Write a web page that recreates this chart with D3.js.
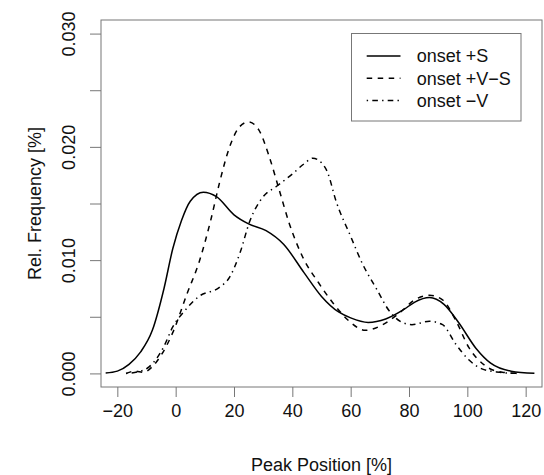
<!DOCTYPE html>
<html>
<head>
<meta charset="utf-8">
<script src="https://cdn.jsdelivr.net/npm/d3@7"></script>
<style>
  body { margin: 0; background: #fff; }
  text { font-family: "Liberation Sans", Arial, sans-serif; fill: #111; }
</style>
</head>
<body>
<svg width="544" height="475"></svg>
<script>
// density curves
var posS  = [-24, -20, -16, -12, -8, -4, -1, 2, 5, 9.5, 14, 20, 25, 31, 37, 44, 50, 56, 60, 66, 72, 78, 82, 87, 92, 97, 103, 108, 115, 123];
var freqS = [0.00003, 0.0002, 0.0008, 0.0019, 0.0038, 0.0075, 0.0110, 0.0135, 0.0152, 0.0160, 0.0156, 0.0140, 0.0132, 0.0126, 0.0114, 0.0089, 0.0068, 0.0054, 0.0049, 0.0045, 0.0048, 0.0056, 0.0063, 0.0067, 0.0061, 0.0045, 0.0022, 0.0009, 0.0002, 0.00002];

var posVS  = [-17, -14, -11, -8, -5, -1, 4, 8, 12, 15, 18.5, 22, 25, 28.5, 32, 35.5, 39, 43.5, 49, 54, 60, 65, 71, 77, 82, 87, 91.5, 96, 100.5, 106, 112, 118];
var freqVS = [0, 0.0002, 0.0001, 0.0006, 0.0016, 0.0036, 0.0071, 0.0098, 0.0135, 0.0168, 0.0200, 0.0218, 0.0222, 0.0215, 0.0192, 0.0162, 0.0132, 0.0103, 0.0080, 0.0062, 0.0045, 0.0038, 0.0043, 0.0054, 0.0065, 0.0069, 0.0065, 0.0047, 0.0023, 0.0007, 0.0001, 0];

var posV  = [-17, -12, -9, -4, -1, 3, 8, 15, 18.5, 22, 25.5, 30, 34.5, 40, 44, 47, 50, 52, 55, 60, 64, 69, 73, 77, 81, 87, 91.5, 96, 100.5, 105, 111, 117];
var freqV = [0, 0.0002, 0.0006, 0.0024, 0.0041, 0.0055, 0.0068, 0.0076, 0.0085, 0.0106, 0.0135, 0.0156, 0.0165, 0.0176, 0.0185, 0.0190, 0.0186, 0.0178, 0.0152, 0.0121, 0.0097, 0.0074, 0.0056, 0.0046, 0.0043, 0.0046, 0.0043, 0.0026, 0.0012, 0.0004, 0.0001, 0];

var legendLabels = ["onset +S", "onset +V\u2212S", "onset \u2212V"];
var xTicks = [-20, 0, 20, 40, 60, 80, 100, 120];
var yTicks = [0, 0.005, 0.01, 0.015, 0.02, 0.025, 0.03];

var svg = d3.select("svg");

// plot region (R style, 4% padding around the limits)
var plotLeft = 101, plotRight = 542, plotTop = 20, plotBottom = 387;
var xlim = [-20, 120], ylim = [0, 0.03];
var xpad = (xlim[1] - xlim[0]) * 0.04, ypad = (ylim[1] - ylim[0]) * 0.04;

var x = d3.scaleLinear().domain([xlim[0] - xpad, xlim[1] + xpad]).range([plotLeft, plotRight]);
var y = d3.scaleLinear().domain([ylim[0] - ypad, ylim[1] + ypad]).range([plotBottom, plotTop]);

var series = [
  {pos: posS, freq: freqS, dash: null},
  {pos: posVS, freq: freqVS, dash: "5.5,5.5"},
  {pos: posV, freq: freqV, dash: "1.4,4.2,5.6,4.2"}
];

var line = d3.line()
  .x(function(d) { return x(d[0]); })
  .y(function(d) { return y(d[1]); })
  .curve(d3.curveMonotoneX);

svg.append("g")
  .selectAll("path")
  .data(series)
  .enter()
  .append("path")
    .attr("d", function(s) { return line(d3.zip(s.pos, s.freq)); })
    .attr("fill", "none")
    .attr("stroke", "#000")
    .attr("stroke-width", 1.5)
    .attr("stroke-dasharray", function(s) { return s.dash; });

// box
svg.append("rect")
  .attr("x", plotLeft).attr("y", plotTop)
  .attr("width", plotRight - plotLeft).attr("height", plotBottom - plotTop)
  .attr("fill", "none").attr("stroke", "#777").attr("stroke-width", 1);

// x axis
var gx = svg.append("g")
  .attr("transform", "translate(0," + plotBottom + ")")
  .call(d3.axisBottom(x).tickValues(xTicks).tickSize(10).tickSizeOuter(0)
    .tickFormat(function(d) { return d < 0 ? "\u2212" + Math.abs(d) : d; }));
gx.select(".domain").remove();
gx.selectAll("line").attr("stroke", "#777");
gx.selectAll("text").attr("y", 30).attr("dy", 0)
  .style("font-size", "18px").style("font-family", "Liberation Sans, Arial, sans-serif").attr("fill", "#111");

// y axis
var gy = svg.append("g")
  .attr("transform", "translate(" + plotLeft + ",0)")
  .call(d3.axisLeft(y).tickValues(yTicks).tickSize(11).tickSizeOuter(0)
    .tickFormat(function(d, i) { return i % 2 === 0 ? d3.format(".3f")(d) : ""; }));
gy.select(".domain").remove();
gy.selectAll("line").attr("stroke", "#777");
gy.selectAll("text")
  .attr("x", 0).attr("y", 0).attr("dy", 0)
  .attr("text-anchor", "middle")
  .attr("transform", "translate(-26,0) rotate(-90)")
  .style("font-size", "18px").style("font-family", "Liberation Sans, Arial, sans-serif").attr("fill", "#111");

// titles
svg.append("text")
  .attr("x", (plotLeft + plotRight) / 2).attr("y", 470.5)
  .attr("text-anchor", "middle").style("font-size", "18px")
  .text("Peak Position [%]");

svg.append("text")
  .attr("transform", "translate(40.5," + (plotTop + plotBottom) / 2 + ") rotate(-90)")
  .attr("text-anchor", "middle").style("font-size", "18px")
  .text("Rel. Frequency [%]");

// legend
var legend = svg.append("g");
legend.append("rect")
  .attr("x", 351.5).attr("y", 33.5).attr("width", 169.5).attr("height", 87.5)
  .attr("fill", "#fff").attr("stroke", "#777").attr("stroke-width", 1);

var rows = legend.selectAll("g.row")
  .data(series)
  .enter()
  .append("g")
    .attr("class", "row")
    .attr("transform", function(d, i) { return "translate(0," + (56 + i * 22.3) + ")"; });

rows.append("line")
  .attr("x1", 366.7).attr("x2", 400.5).attr("y1", 0).attr("y2", 0)
  .attr("stroke", "#000").attr("stroke-width", 1.5)
  .attr("stroke-dasharray", function(d) { return d.dash; });

rows.append("text")
  .attr("x", 416.7).attr("dy", "0.35em")
  .style("font-size", "18px")
  .text(function(d, i) { return legendLabels[i]; });
</script>
</body>
</html>
